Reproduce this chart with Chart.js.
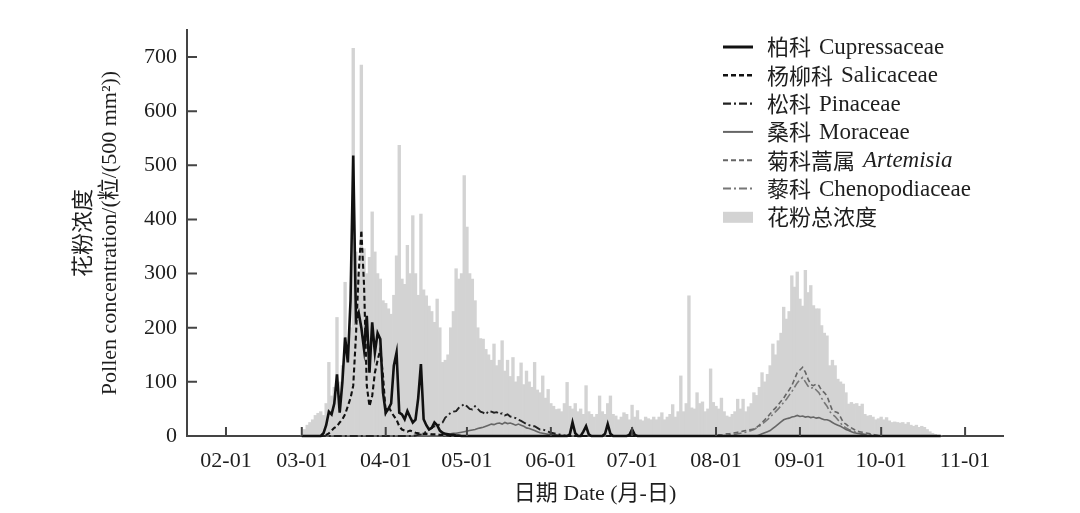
<!DOCTYPE html>
<html>
<head>
<meta charset="utf-8">
<script src="https://cdn.jsdelivr.net/npm/chart.js@4.4.1/dist/chart.umd.min.js"></script>
<style>
  html, body { margin: 0; background: #fff; }
  canvas { display: block; }
</style>
</head>
<body>
<canvas id="chart" width="1080" height="513"></canvas>
<script>
"use strict";

// Day of year (1 = Jan 1). Daily totals run from Mar 1 (day 60) to day 296.
const firstDay = 60;

const monthDays = [32, 60, 91, 121, 152, 182, 213, 244, 274, 305];
const monthLabels = ["02-01", "03-01", "04-01", "05-01", "06-01", "07-01", "08-01", "09-01", "10-01", "11-01"];

// 花粉总浓度, one value per day from day 60
const totals = [
  0, 12, 20, 25, 30, 38, 42, 45, 38, 60,
  136, 74, 90, 219, 100, 130, 284, 160, 200, 716,
  340, 300, 685, 346, 300, 330, 414, 340, 300, 290,
  250, 245, 235, 225, 260, 333, 537, 290, 280, 352,
  300, 407, 300, 260, 410, 270, 259, 240, 230, 210,
  253, 200, 136, 140, 150, 200, 230, 309, 290, 300,
  481, 386, 300, 290, 250, 200, 180, 179, 160, 150,
  140, 170, 130, 140, 176, 120, 140, 110, 145, 100,
  110, 135, 95, 120, 100, 90, 136, 85, 80, 111,
  70, 86, 60, 55, 49, 50, 45, 60, 99, 55,
  50, 60, 45, 50, 40, 93, 45, 40, 35, 40,
  74, 45, 40, 60, 74, 40, 37, 30, 35, 43,
  40, 30, 57, 35, 47, 30, 28, 35, 32, 30,
  35, 30, 35, 43, 30, 35, 40, 58, 35, 45,
  111, 45, 60, 259, 52, 50, 80, 60, 63, 45,
  50, 124, 62, 55, 50, 70, 45, 37, 35, 40,
  45, 68, 50, 68, 45, 54, 60, 80, 75, 90,
  117, 100, 114, 130, 170, 150, 176, 190, 238, 216,
  230, 296, 275, 303, 253, 240, 306, 265, 278, 241,
  235, 235, 204, 190, 185, 130, 140, 130, 105, 100,
  96, 80, 59, 62, 59, 60, 55, 59, 40, 37,
  38, 35, 30, 32, 35, 30, 34, 28, 25, 26,
  25, 24, 25, 22, 25, 20, 18, 20, 16, 18,
  16, 12, 8, 5, 3, 0, 0,
];

// Taxon series: each list starts at the day named next to it, zero elsewhere.
const cupressaceaeStart = 60;
const cupressaceae = [
  0, 0, 0, 0, 0, 0, 0, 0, 5, 20,
  45, 40, 60, 114, 43, 100, 182, 136, 250, 518,
  216, 228, 200, 160, 222, 117, 210, 154, 190, 179,
  80, 43, 50, 60, 130, 154, 43, 40, 31, 46,
  35, 25, 30, 70, 133, 31, 20, 12, 15, 25,
  20, 10, 6, 4, 3, 2, 2, 1, 1, 0,
  0, 0, 0, 0, 0, 0, 0, 0, 0, 0,
  0, 0, 0, 0, 0, 0, 0, 0, 0, 0,
  0, 0, 0, 0, 0, 0, 0, 0, 0, 0,
  0, 0, 0, 0, 0, 0, 0, 0, 0, 3,
  25, 5, 0, 0, 8, 18, 3, 0, 0, 0,
  0, 0, 4, 22, 4, 0, 0, 0, 0, 0,
  0, 2, 12, 2, 0,
];

const salicaceaeStart = 60;
const salicaceae = [
  0, 0, 0, 0, 0, 0, 0, 0, 0, 2,
  5, 10, 15, 18, 25, 31, 40, 55, 70, 93,
  185, 300, 380, 278, 93, 55, 74, 117, 140, 160,
  111, 43, 55, 45, 37, 30, 18, 12, 10, 8,
  10, 8, 6, 5, 5, 4, 4, 4, 3, 3,
  3, 2, 2, 1, 1, 0,
];

const pinaceaeStart = 100;
const pinaceae = [
  0, 0, 1, 2, 3, 5, 8, 12, 15, 18,
  18, 22, 25, 34, 38, 43, 45, 46, 52, 55,
  59, 55, 50, 49, 55, 50, 45, 43, 40, 46,
  45, 43, 44, 40, 42, 38, 40, 36, 35, 33,
  30, 28, 25, 22, 20, 18, 18, 15, 12, 12,
  10, 8, 6, 5, 4, 3, 2, 1, 0,
];

const moraceaeSpringStart = 110;
const moraceaeSpring = [
  0, 1, 2, 2, 3, 4, 5, 5, 6, 7,
  8, 9, 10, 11, 12, 14, 15, 16, 18, 20,
  22, 21, 23, 24, 22, 25, 23, 24, 22, 20,
  22, 20, 18, 15, 14, 12, 10, 8, 6, 5,
  4, 3, 3, 2, 2, 1, 1, 0,
];
const moraceaeAutumnStart = 228;
const moraceaeAutumn = [
  0, 2, 4, 6, 8, 10, 14, 18, 22, 26,
  30, 32, 33, 35, 36, 38, 36, 37, 35, 36,
  34, 35, 33, 34, 32, 30, 30, 28, 25, 22,
  20, 18, 15, 12, 10, 8, 6, 5, 4, 3,
  2, 1, 1, 0,
];

const artemisiaStart = 212;
const artemisia = [
  0, 1, 2, 2, 3, 4, 4, 5, 6, 7,
  8, 9, 10, 11, 12, 13, 16, 20, 25, 30,
  35, 41, 47, 52, 58, 64, 70, 78, 85, 93,
  105, 117, 122, 127, 118, 105, 95, 93, 96, 93,
  84, 80, 74, 60, 47, 45, 43, 35, 25, 22,
  18, 15, 12, 9, 8, 7, 6, 5, 4, 3,
  2, 1, 0,
];

const chenopodiaceaeStart = 215;
const chenopodiaceae = [
  0, 1, 1, 2, 2, 3, 4, 5, 6, 7,
  8, 10, 12, 15, 18, 22, 26, 30, 35, 40,
  45, 50, 56, 62, 68, 75, 82, 90, 98, 104,
  108, 100, 92, 88, 90, 85, 80, 70, 62, 55,
  45, 40, 36, 30, 24, 18, 15, 12, 10, 8,
  6, 5, 4, 3, 2, 2, 1, 1, 0,
];

const legendCn = ["柏科", "杨柳科", "松科", "桑科", "菊科蒿属", "藜科", "花粉总浓度"];
const legendEn = ["Cupressaceae", "Salicaceae", "Pinaceae", "Moraceae", "Artemisia", "Chenopodiaceae", ""];
const legendItalic = [false, false, false, false, true, false, false];

const days = totals.map((_, i) => firstDay + i);

// place a taxon list on the day axis; days it does not cover are zero
function onDays(parts) {
  const out = days.map(() => 0);
  for (const [start, vals] of parts) {
    vals.forEach((v, i) => {
      const k = start - firstDay + i;
      if (k >= 0 && k < out.length) out[k] = v;
    });
  }
  return out;
}

const SERIF = "'Liberation Serif', 'Noto Sans CJK SC', serif";
const CJK = "'Noto Sans CJK SC', sans-serif";
const TEXT = "#1e1e1e";
const AXIS = "#444";

Chart.defaults.font.family = SERIF;
Chart.defaults.color = TEXT;

function lineSet(label, data, color, width, dash, order) {
  return {
    type: "line", label, data,
    borderColor: color, borderWidth: width, borderDash: dash,
    pointRadius: 0, tension: 0, fill: false, order, clip: false,
  };
}

const innerTicks = {
  id: "innerTicks",
  afterDatasetsDraw(chart) {
    const { ctx, chartArea: a, scales: { x, y } } = chart;
    ctx.save();
    ctx.strokeStyle = AXIS;
    ctx.lineWidth = 2;
    ctx.beginPath();
    x.ticks.forEach((t) => {
      const px = x.getPixelForValue(t.value);
      ctx.moveTo(px, a.bottom);
      ctx.lineTo(px, a.bottom - 9);
    });
    y.ticks.forEach((t) => {
      const py = y.getPixelForValue(t.value);
      ctx.moveTo(a.left, py);
      ctx.lineTo(a.left + 10, py);
    });
    ctx.stroke();
    ctx.restore();
  },
};

// Legend in the upper right of the plot, Chinese name + Latin name.
const insideLegend = {
  id: "insideLegend",
  afterDraw(chart) {
    const { ctx, chartArea: a } = chart;
    const x0 = a.right - 280, x1 = x0 + 30, tx = x1 + 14;
    const y0 = a.top + 17, rowH = 28.3;
    ctx.save();
    chart.data.datasets.forEach((ds, i) => {
      const yc = y0 + i * rowH;
      if (ds.type === "line") {
        ctx.strokeStyle = ds.borderColor;
        ctx.lineWidth = ds.borderWidth + 0.4;
        ctx.setLineDash(ds.borderDash || []);
        ctx.beginPath();
        ctx.moveTo(x0, yc);
        ctx.lineTo(x1, yc);
        ctx.stroke();
        ctx.setLineDash([]);
      } else {
        ctx.fillStyle = ds.backgroundColor;
        ctx.fillRect(x0, yc - 5, x1 - x0, 11);
      }
      ctx.fillStyle = TEXT;
      ctx.textBaseline = "middle";
      ctx.font = "22px " + CJK;
      ctx.fillText(legendCn[i], tx, yc);
      if (legendEn[i]) {
        const w = ctx.measureText(legendCn[i]).width;
        ctx.font = (legendItalic[i] ? "italic " : "") + "23px 'Liberation Serif', serif";
        ctx.fillText(legendEn[i], tx + w + 8, yc + 1);
      }
    });
    ctx.restore();
  },
};

new Chart(document.getElementById("chart"), {
  type: "bar",
  data: {
    labels: days,
    datasets: [
      lineSet("柏科 Cupressaceae", onDays([[cupressaceaeStart, cupressaceae]]), "#111", 2.6, [], 1),
      lineSet("杨柳科 Salicaceae", onDays([[salicaceaeStart, salicaceae]]), "#111", 2.1, [5, 3], 2),
      lineSet("松科 Pinaceae", onDays([[pinaceaeStart, pinaceae]]), "#222", 1.9, [8, 3, 2, 3], 3),
      lineSet("桑科 Moraceae", onDays([[moraceaeSpringStart, moraceaeSpring], [moraceaeAutumnStart, moraceaeAutumn]]), "#666", 1.6, [], 4),
      lineSet("菊科蒿属 Artemisia", onDays([[artemisiaStart, artemisia]]), "#666", 1.6, [5, 3], 5),
      lineSet("藜科 Chenopodiaceae", onDays([[chenopodiaceaeStart, chenopodiaceae]]), "#777", 1.6, [8, 3, 2, 3], 6),
      {
        type: "bar", label: "花粉总浓度", data: totals,
        backgroundColor: "#d3d3d3", borderWidth: 0,
        barPercentage: 1, categoryPercentage: 1, order: 10,
      },
    ],
  },
  options: {
    responsive: false,
    animation: false,
    devicePixelRatio: 1,
    layout: { padding: { left: 0, right: 77, top: 30, bottom: 0 } },
    plugins: { legend: { display: false }, tooltip: { enabled: false } },
    scales: {
      x: {
        type: "linear",
        min: 17.6,
        max: 319,
        offset: false,
        grid: { drawOnChartArea: false, drawTicks: false },
        border: { color: AXIS, width: 2 },
        afterBuildTicks: (s) => { s.ticks = monthDays.map((v) => ({ value: v })); },
        afterFit: (s) => { s.height = 77; },
        ticks: {
          autoSkip: false,
          maxRotation: 0,
          padding: 12,
          font: { size: 22 },
          callback: (v) => monthLabels[monthDays.indexOf(v)],
        },
        title: {
          display: true,
          text: "日期 Date (月-日)",
          font: { size: 22, lineHeight: 1.2 },
          padding: { top: 0, bottom: 6 },
        },
      },
      y: {
        min: 0,
        max: 750,
        grid: { drawOnChartArea: false, drawTicks: false },
        border: { color: AXIS, width: 2 },
        afterFit: (s) => { s.width = 187; },
        ticks: { stepSize: 100, includeBounds: false, padding: 10, font: { size: 22 } },
        title: {
          display: true,
          text: ["花粉浓度", "Pollen concentration/(粒/(500 mm²))"],
          font: { size: 22, lineHeight: 1.2 },
          padding: { top: 71, bottom: 0 },
        },
      },
    },
  },
  plugins: [innerTicks, insideLegend],
});
</script>
</body>
</html>
